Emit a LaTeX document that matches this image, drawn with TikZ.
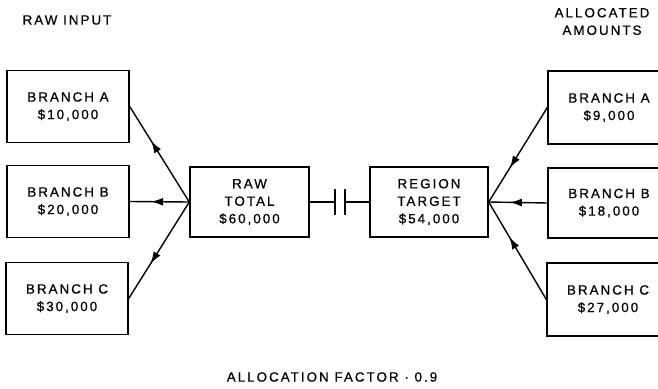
\documentclass[tikz,border=0pt]{standalone}
\usepackage{fontspec}
\setmainfont[LetterSpace=15,FakeBold=0.6]{Liberation Sans}
\usetikzlibrary{arrows.meta,positioning,decorations.markings}

\begin{document}
\begin{tikzpicture}[x=1pt,y=-1pt,line width=1.4pt,
    box/.style={draw,minimum width=122pt,minimum height=72pt,align=center,
      font=\fontsize{13.4}{17.5}\selectfont,inner sep=0pt},
    label/.style={align=center,font=\fontsize{13.4}{17.5}\selectfont},
    midarrow/.style={postaction={decorate},decoration={markings,
      mark=at position 0.64 with {\arrow{Latex[length=12pt,width=8pt]}}}}]
          \useasboundingbox (0,0) rectangle (658,388);
          % left side
          \node[box] (rawA) at (68,106.5) {BRANCH A\\\$10,000};
          \node[box] (rawB) at (68,201.5) {BRANCH B\\\$20,000};
          \node[box] (rawC) at (67,298.5) {BRANCH C\\\$30,000};
          \node[box,minimum width=119pt,minimum height=70pt] (rawtot) at (249.5,202) {RAW\\TOTAL\\\$60,000};
          % right side
          \node[box,minimum width=118pt,minimum height=70pt] (target) at (429,202) {REGION\\TARGET\\\$54,000};
          \node[box,minimum height=73pt] (allocA) at (609,107.5) {BRANCH A\\\$9,000};
          \node[box,minimum height=70pt] (allocB) at (609,203) {BRANCH B\\\$18,000};
          \node[box,minimum height=73pt] (allocC) at (608,299.5) {BRANCH C\\\$27,000};
          \node[label] (inlbl) at (67,20) {RAW INPUT};
          \node[label] (outlbl) at (602,21.5) {ALLOCATED\\AMOUNTS};
          \node[label] (factor) at (332,377) {ALLOCATION FACTOR \textperiodcentered\ 0.9};
          % connectors
          \draw[midarrow] (rawtot.west) -- (rawA.east);
          \draw[midarrow] (rawtot.west) -- (rawB.east);
          \draw[midarrow] (rawtot.west) -- (rawC.east);
          \draw[midarrow] (allocA.west) -- (target.east);
          \draw[midarrow] (allocB.west) -- (target.east);
          \draw[midarrow] (allocC.west) -- (target.east);
          % break between the two totals
          \coordinate (capL) at (335,202);
          \coordinate (capR) at (345,202);
          \draw (rawtot.east) -- (capL);
          \draw (capR) -- (target.west);
          \draw ([yshift=-13pt]capL) -- ([yshift=13pt]capL);
          \draw ([yshift=-13pt]capR) -- ([yshift=13pt]capR);
        \end{tikzpicture}
\end{document}
